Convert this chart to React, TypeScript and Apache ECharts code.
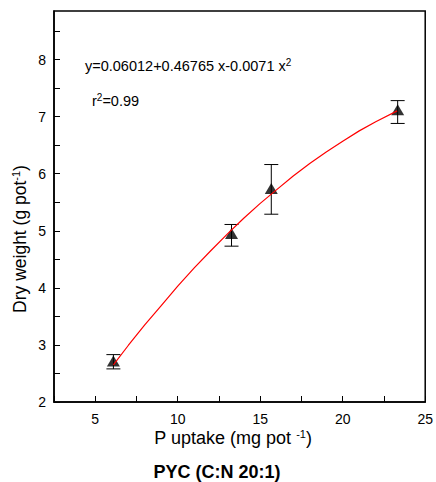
import React, { useEffect, useRef } from "react";
import * as echarts from "echarts";

// Observed data points (P uptake vs dry weight) with error bar limits
const pUptake = [6.1, 13.26, 15.67, 23.33];
const dryWeight = [2.72, 4.95, 5.74, 7.12];
const errLow = [2.58, 4.73, 5.29, 6.88];
const errHigh = [2.83, 5.11, 6.16, 7.28];

// Fitted curve points
const fitX = [6.1, 7, 8, 9, 10, 11, 12, 13, 14, 15, 16, 17, 18, 19, 20, 21, 22, 23.3];
const fitY = [2.65, 2.99, 3.35, 3.69, 4.03, 4.35, 4.65, 4.94, 5.22, 5.48, 5.72, 5.96, 6.18, 6.38, 6.57, 6.75, 6.91, 7.1];

const FONT = "'Liberation Sans', Arial, sans-serif";

export default function App() {
  const ref = useRef<HTMLDivElement>(null);

  useEffect(() => {
    if (!ref.current) return;
    const chart = echarts.init(ref.current, null, { renderer: "svg" });

    const errData = pUptake.map((x, i) => [x, errLow[i], errHigh[i]]);

    chart.setOption({
      animation: false,
      backgroundColor: "#fff",
      textStyle: { fontFamily: FONT },
      grid: {
        left: 54,
        right: 8,
        top: 11,
        bottom: 80,
        show: true,
        borderColor: "#000",
        borderWidth: 1.5,
        backgroundColor: "transparent",
      },
      xAxis: {
        type: "value",
        min: 2.5,
        max: 25,
        interval: 2.5,
        axisLine: { show: true, lineStyle: { color: "#000", width: 1.5 } },
        axisTick: { show: true, inside: true, length: 6, lineStyle: { color: "#000", width: 1 } },
        splitLine: { show: false },
        axisLabel: {
          color: "#000",
          fontSize: 14,
          fontFamily: FONT,
          margin: 10,
          formatter: (v: number) => (Math.abs(v % 5) < 1e-9 ? String(v) : ""),
        },
      },
      yAxis: {
        type: "value",
        min: 2,
        max: 8.85,
        interval: 0.5,
        axisLine: { show: true, lineStyle: { color: "#000", width: 1.5 } },
        axisTick: { show: true, inside: true, length: 6, lineStyle: { color: "#000", width: 1 } },
        splitLine: { show: false },
        axisLabel: {
          color: "#000",
          fontSize: 14,
          fontFamily: FONT,
          margin: 8,
          showMaxLabel: false,
          formatter: (v: number) => (Math.abs(v - Math.round(v)) < 1e-9 ? String(v) : ""),
        },
      },
      series: [
        {
          type: "custom",
          data: errData,
          z: 2,
          renderItem: (params: any, api: any) => {
            const x = api.value(0);
            const lo = api.coord([x, api.value(1)]);
            const hi = api.coord([x, api.value(2)]);
            const hw = 7;
            const style = { stroke: "#000", lineWidth: 1 };
            return {
              type: "group",
              children: [
                { type: "line", shape: { x1: lo[0], y1: lo[1], x2: hi[0], y2: hi[1] }, style },
                { type: "line", shape: { x1: lo[0] - hw, y1: lo[1], x2: lo[0] + hw, y2: lo[1] }, style },
                { type: "line", shape: { x1: hi[0] - hw, y1: hi[1], x2: hi[0] + hw, y2: hi[1] }, style },
              ],
            };
          },
        },
        {
          type: "scatter",
          data: pUptake.map((x, i) => [x, dryWeight[i]]),
          symbol: "triangle",
          symbolSize: [13, 11],
          itemStyle: { color: "#000" },
          z: 3,
        },
        {
          type: "line",
          data: fitX.map((x, i) => [x, fitY[i]]),
          showSymbol: false,
          symbol: "none",
          smooth: false,
          lineStyle: { color: "#ff0000", width: 1.2 },
          z: 4,
        },
      ],
      graphic: [
        {
          type: "text",
          left: 85,
          top: 57,
          style: {
            text: "{a|y=0.06012+0.46765 x-0.0071 x}{s|2}",
            rich: {
              a: { fontSize: 14.5, fontFamily: FONT, fill: "#000", lineHeight: 17 },
              s: { fontSize: 10, fontFamily: FONT, fill: "#000", lineHeight: 10, verticalAlign: "top" },
            },
          },
        },
        {
          type: "text",
          left: 92,
          top: 92,
          style: {
            text: "{a|r}{s|2}{a|=0.99}",
            rich: {
              a: { fontSize: 14.5, fontFamily: FONT, fill: "#000", lineHeight: 17 },
              s: { fontSize: 10, fontFamily: FONT, fill: "#000", lineHeight: 10, verticalAlign: "top" },
            },
          },
        },
        {
          type: "text",
          x: 20,
          y: 239,
          rotation: Math.PI / 2,
          style: {
            text: "{a|Dry weight (g pot}{s|-1}{a|)}",
            align: "center",
            verticalAlign: "middle",
            rich: {
              a: { fontSize: 17.5, fontFamily: FONT, fill: "#000", lineHeight: 20 },
              s: { fontSize: 11, fontFamily: FONT, fill: "#000", lineHeight: 12, verticalAlign: "top" },
            },
          },
        },
        {
          type: "text",
          x: 233,
          y: 438,
          style: {
            text: "{a|P uptake (mg pot }{s|-1}{a|)}",
            align: "center",
            verticalAlign: "middle",
            rich: {
              a: { fontSize: 18, fontFamily: FONT, fill: "#000", lineHeight: 20 },
              s: { fontSize: 11, fontFamily: FONT, fill: "#000", lineHeight: 12, verticalAlign: "top" },
            },
          },
        },
        {
          type: "text",
          x: 217,
          y: 472,
          style: {
            text: "PYC (C:N 20:1)",
            align: "center",
            verticalAlign: "middle",
            fontSize: 18,
            fontWeight: "bold",
            fontFamily: FONT,
            fill: "#000",
          },
        },
      ],
    });

    return () => chart.dispose();
  }, []);

  return (
    <div
      ref={ref}
      style={{ position: "fixed", left: 0, top: 0, width: 436, height: 482 }}
    />
  );
}
